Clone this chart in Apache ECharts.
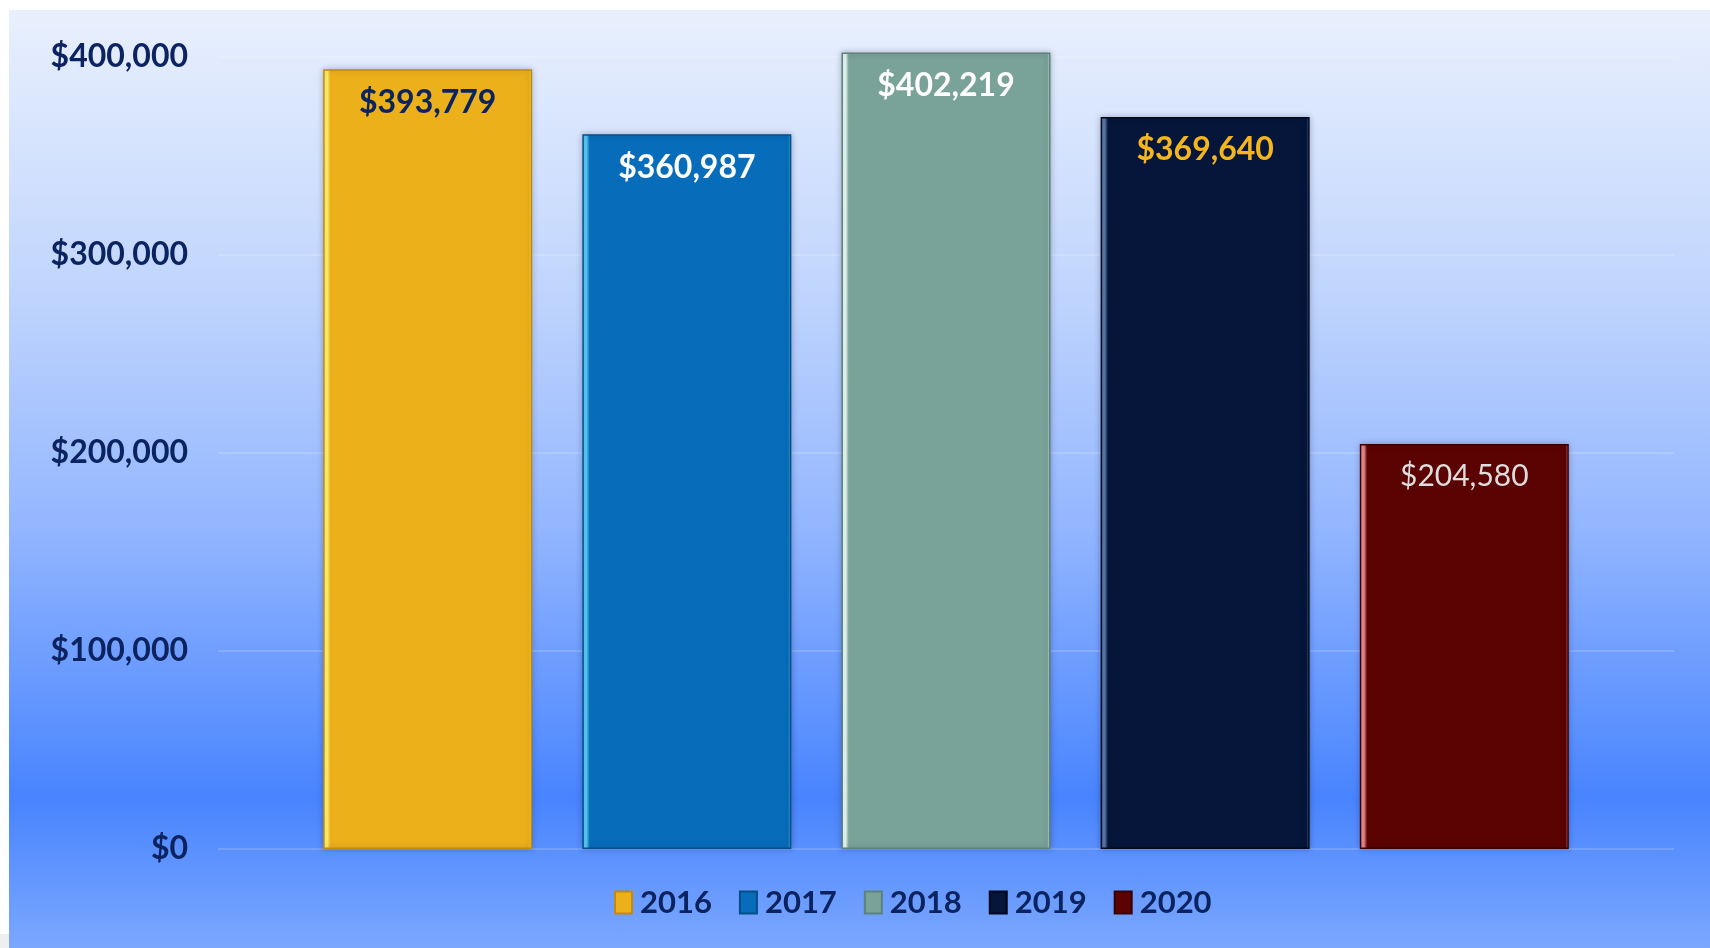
<!DOCTYPE html>
<html>
<head>
<meta charset="utf-8">
<script src="https://cdn.jsdelivr.net/npm/echarts@6/dist/echarts.min.js"></script>
<style>
  html, body { margin: 0; padding: 0; background: #fff; }
  #chart { width: 1710px; height: 948px; }
</style>
</head>
<body>
<div id="chart"></div>
<script>
// data
var years = ["2016", "2017", "2018", "2019", "2020"];
var amounts = [393779, 360987, 402219, 369640, 204580];
var yTicks = [0, 100000, 200000, 300000, 400000];

// bar look per year: base, highlight edge, border, label colour, label weight
var baseColors = ["#ecb01a", "#076dba", "#79a298", "#05163a", "#5b0303"];
var edgeColors = ["#fff06a", "#56c8f5", "#e6f7f0", "#5a78a8", "#e88a8a"];
var borderColors = ["#c08a10", "#044f88", "#5c8379", "#01081c", "#380000"];
var labelColors = ["#0b2460", "#ffffff", "#ffffff", "#f5b51c", "#dddddd"];
var labelWeights = ["bold", "bold", "bold", "bold", "normal"];
var labelSizes = [32, 32, 32, 32, 30];

var navy = "#0b2460";

function money(v) {
  return "$" + v.toLocaleString("en-US");
}

var series = [];
for (var i = 0; i < years.length; i++) {
  series.push({
    name: years[i],
    type: "bar",
    barWidth: 209,
    barGap: "24%",
    clip: false,
    data: [amounts[i]],
    itemStyle: {
      color: new echarts.graphic.LinearGradient(0, 0, 1, 0, [
        { offset: 0, color: edgeColors[i] },
        { offset: 0.02, color: edgeColors[i] },
        { offset: 0.035, color: baseColors[i] },
        { offset: 0.985, color: baseColors[i] },
        { offset: 1, color: edgeColors[i] }
      ]),
      borderColor: borderColors[i],
      borderWidth: 1.5,
      shadowBlur: 6,
      shadowColor: "rgba(0,0,40,0.25)"
    },
    label: {
      show: true,
      position: "insideTop",
      distance: 17,
      fontFamily: "Lato",
      fontSize: labelSizes[i],
      fontWeight: labelWeights[i],
      color: labelColors[i],
      formatter: function (p) {
        return money(p.value);
      }
    }
  });
}

var option = {
  backgroundColor: "#ffffff",
  animation: false,
  graphic: [
    {
      type: "rect",
      z: -10,
      shape: { x: 0, y: 934, width: 9, height: 14 },
      style: { fill: "#efefef" }
    },
    {
      type: "rect",
      z: -10,
      shape: { x: 9, y: 10, width: 1701, height: 938 },
      style: {
        fill: new echarts.graphic.LinearGradient(0, 0, 0, 1, [
          { offset: 0, color: "#e9f0fd" },
          { offset: 0.3, color: "#c0d5fd" },
          { offset: 0.55, color: "#93b6ff" },
          { offset: 0.84, color: "#4884ff" },
          { offset: 1, color: "#7ba7ff" }
        ])
      }
    }
  ],
  legend: {
    data: years,
    left: 609,
    top: 882,
    icon: "rect",
    itemWidth: 17,
    itemHeight: 22,
    itemGap: 27,
    textStyle: {
      fontFamily: "Lato",
      fontSize: 31,
      fontWeight: "bold",
      color: navy,
      padding: [0, 0, 0, 3]
    }
  },
  grid: {
    left: 218,
    right: 36,
    top: 57,
    bottom: 99,
    containLabel: false
  },
  xAxis: {
    type: "category",
    data: [""],
    axisLine: { show: false },
    axisTick: { show: false },
    axisLabel: { show: false }
  },
  yAxis: {
    type: "value",
    min: yTicks[0],
    max: yTicks[yTicks.length - 1],
    interval: 100000,
    axisLine: { show: false },
    axisTick: { show: false },
    splitLine: {
      lineStyle: { color: "rgba(255,255,255,0.16)", width: 2 }
    },
    axisLabel: {
      margin: 30,
      fontFamily: "Lato",
      fontSize: 32,
      fontWeight: "bold",
      color: navy,
      formatter: function (v) {
        return money(v);
      }
    }
  },
  series: series
};

var myChart = echarts.init(document.getElementById("chart"));
myChart.setOption(option);
</script>
</body>
</html>
